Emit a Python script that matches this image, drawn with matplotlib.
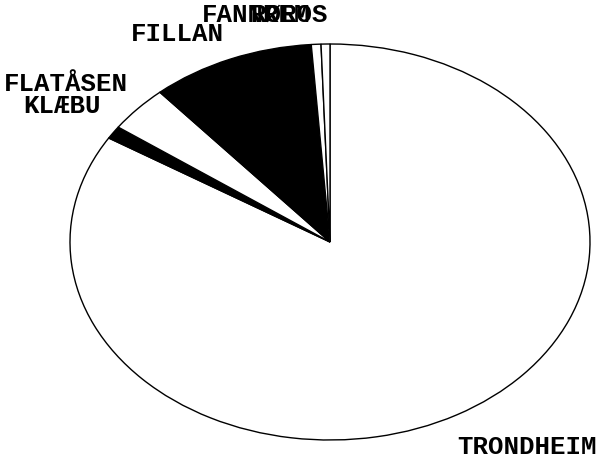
import matplotlib
matplotlib.use("Agg")
import matplotlib.pyplot as plt

# data (percent shares)
places = ["TRONDHEIM", "KLÆBU", "FLATÅSEN", "FILLAN", "FANNREM", "RØROS"]
shares = [83.8, 1.05, 3.8, 10.2, 0.6, 0.55]
fills = ["white", "black", "white", "black", "white", "white"]

W, H = 600, 464
fig = plt.figure(figsize=(W / 100, H / 100), dpi=100)
fig.patch.set_facecolor("white")

# ellipse bounding box in pixels
x0, x1, y0, y1 = 70, 590, 45, 441
ax = fig.add_axes([x0 / W, (H - y1) / H, (x1 - x0) / W, (y1 - y0) / H])
ax.pie(shares, colors=fills, startangle=90, counterclock=False,
       radius=1.0, wedgeprops=dict(edgecolor="black", linewidth=1.0))
ax.set_aspect("auto")
ax.set_xlim(-1.0, 1.0)
ax.set_ylim(-1.0, 1.0)
ax.axis("off")

# label anchors in pixel coords (layout only)
label_pos = {
    "TRONDHEIM": (527, 447),
    "KLÆBU": (62, 106),
    "FLATÅSEN": (66, 84),
    "FILLAN": (177, 34),
    "FANNREM": (256, 15),
    "RØROS": (289, 15),
}
font = dict(family="Liberation Mono", fontweight="bold", fontsize=18.5)
for name in places:
    px, py = label_pos[name]
    fig.text(px / W, 1 - py / H, name, ha="center", va="center", color="black", **font)

fig.savefig("out.png", dpi=100, facecolor="white")
